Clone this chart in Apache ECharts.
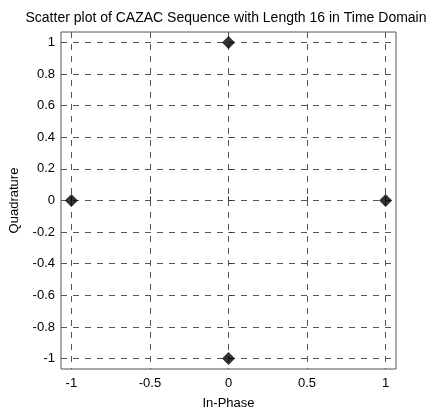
<!DOCTYPE html>
<html><head><meta charset="utf-8">
<script src="https://cdn.jsdelivr.net/npm/echarts@6/dist/echarts.min.js"></script>
<style>html,body{margin:0;padding:0;background:#fff}#c{width:426px;height:415px}</style>
</head><body><div id="c"></div>
<script>
const titleText = "Scatter plot of CAZAC Sequence with Length 16 in Time Domain";
const xName = "In-Phase";
const yName = "Quadrature";
const inPhase = [0, 0, -1, 1];
const quadrature = [1, -1, 0, 0];
const xTicks = [-1, -0.5, 0, 0.5, 1];
const yTicks = [-1, -0.8, -0.6, -0.4, -0.2, 0, 0.2, 0.4, 0.6, 0.8, 1];
const axisPad = 0.066;

const font = "Liberation Sans, Arial, sans-serif";
const points = inPhase.map((x, i) => [x, quadrature[i]]);
const split = {show: true, lineStyle: {color: '#555', type: [6, 6], width: 1}};
const chart = echarts.init(document.getElementById('c'));
chart.setOption({
  animation: false,
  backgroundColor: '#fff',
  title: {text: titleText, left: 221, top: 6, textAlign: 'center',
    textStyle: {fontFamily: font, fontSize: 14, fontWeight: 'normal', color: '#000'}},
  grid: {left: 57, right: 30, top: 32, bottom: 41, show: true, borderColor: '#555', borderWidth: 1},
  xAxis: {type: 'value', min: -1 - axisPad, max: 1 + axisPad,
    name: xName, nameLocation: 'middle', nameGap: 28,
    nameTextStyle: {fontFamily: font, fontSize: 13, color: '#000'},
    axisLine: {show: false},
    axisTick: {show: true, inside: true, length: 4, customValues: xTicks, lineStyle: {color: '#333'}},
    axisLabel: {customValues: xTicks, fontFamily: font, fontSize: 13, color: '#000', margin: 8},
    splitLine: split},
  yAxis: {type: 'value', min: -1 - axisPad, max: 1 + axisPad,
    name: yName, nameLocation: 'middle', nameGap: 40,
    nameTextStyle: {fontFamily: font, fontSize: 13, color: '#000'},
    axisLine: {show: false},
    axisTick: {show: true, inside: true, length: 4, customValues: yTicks, lineStyle: {color: '#333'}},
    axisLabel: {customValues: yTicks, fontFamily: font, fontSize: 13, color: '#000', margin: 6},
    splitLine: split},
  series: [{type: 'scatter', data: points, symbol: 'diamond', symbolSize: 13,
    itemStyle: {color: '#000'}}]
});
</script></body></html>
